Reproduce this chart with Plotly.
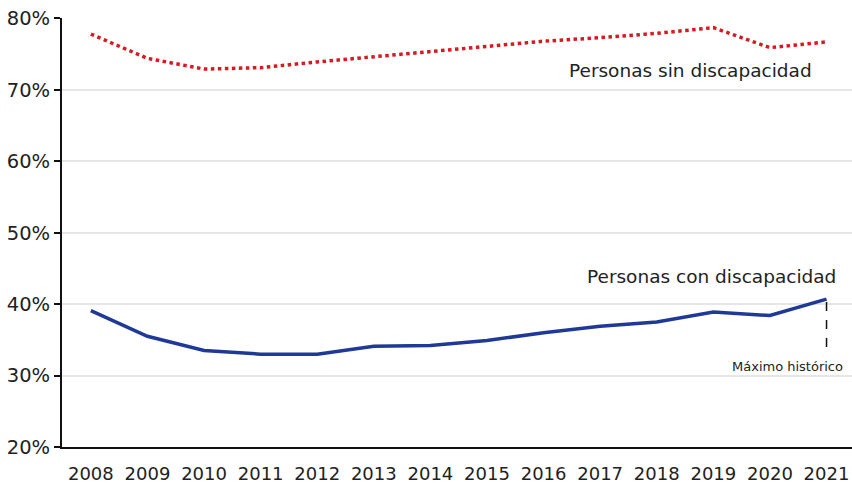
import plotly.graph_objects as go

years = list(range(2008, 2022))
year_labels = [str(y) for y in years]
sin_discapacidad = [77.8, 74.4, 72.9, 73.1, 73.9, 74.6, 75.4, 76.1, 76.8, 77.3, 77.9, 78.7, 75.9, 76.7]
con_discapacidad = [39.1, 35.5, 33.5, 33.0, 33.0, 34.1, 34.2, 34.9, 36.0, 36.9, 37.5, 38.9, 38.4, 40.7]
y_ticks = [20, 30, 40, 50, 60, 70, 80]
y_tick_labels = ["20%", "30%", "40%", "50%", "60%", "70%", "80%"]

FONT = "DejaVu Sans"
fig = go.Figure()
fig.add_trace(go.Scatter(x=years, y=sin_discapacidad, mode="lines",
                         line=dict(color="#d71920", width=3.5, dash="dot"),
                         showlegend=False, hoverinfo="skip"))
fig.add_trace(go.Scatter(x=years, y=con_discapacidad, mode="lines",
                         line=dict(color="#1f3a96", width=3.5),
                         showlegend=False, hoverinfo="skip"))

fig.add_annotation(x=2018.59, y=72.7, text="Personas sin discapacidad", showarrow=False,
                   font=dict(family=FONT, size=18.5, color="#222"), xanchor="center", yanchor="middle")
fig.add_annotation(x=2021.2, y=43.9, text="Personas con discapacidad", showarrow=False,
                   font=dict(family=FONT, size=18.5, color="#222"), xanchor="right", yanchor="middle")
fig.add_annotation(x=2021.33, y=31.3, text="Máximo histórico", showarrow=False,
                   font=dict(family=FONT, size=13, color="#222"), xanchor="right", yanchor="middle")
fig.add_shape(type="line", x0=2021, x1=2021, y0=con_discapacidad[-1] - 0.4, y1=33.0,
              line=dict(color="#111", width=1.5, dash="dash"))

fig.update_layout(
    width=852, height=483,
    margin=dict(l=62, r=0, t=18, b=36),
    plot_bgcolor="white", paper_bgcolor="white",
    font=dict(family=FONT, size=17, color="#222"),
    xaxis=dict(range=[2007.49, 2021.45], tickmode="array", tickvals=years,
               ticktext=year_labels, showgrid=False, zeroline=False,
               showline=True, linecolor="#111", linewidth=2, ticks="", ticklen=0,
               automargin=False, ticklabeloverflow="allow", ticklabelstandoff=9,
               tickfont=dict(family=FONT, size=18, color="#222")),
    yaxis=dict(range=[20, 80.05], tickmode="array", tickvals=y_ticks, ticktext=y_tick_labels,
               showgrid=True, gridcolor="#e6e6e6", gridwidth=2, zeroline=False,
               showline=True, linecolor="#111", linewidth=2, ticks="outside",
               ticklen=6, tickcolor="#111", tickwidth=2, automargin=False,
               ticklabeloverflow="allow",
               tickfont=dict(family=FONT, size=19.5, color="#222")),
)
fig.write_html("out.html", config={"displayModeBar": False},
               post_script="document.body.style.margin='0';document.body.style.overflow='hidden';")
